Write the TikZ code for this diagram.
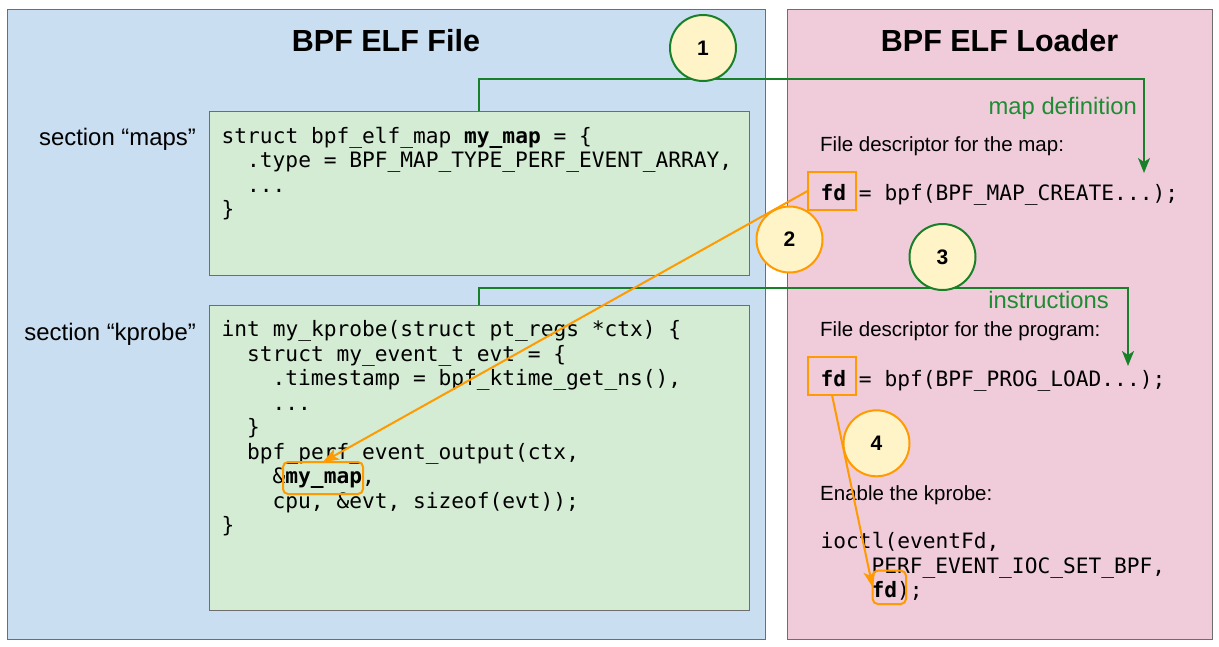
\documentclass[tikz,border=0pt]{standalone}
\usepackage{fontspec}
\setmainfont{Liberation Sans}
\newfontfamily\codefont{DejaVu Sans Mono}
\usetikzlibrary{arrows.meta}
\definecolor{panelblue}{RGB}{202,222,241}
\definecolor{panelpink}{RGB}{240,204,219}
\definecolor{codegreen}{RGB}{211,236,211}
\definecolor{bordergray}{RGB}{110,110,110}
\definecolor{badgefill}{RGB}{255,244,200}
\definecolor{flowgreen}{RGB}{24,128,40}
\definecolor{flowgreentext}{RGB}{30,140,50}
\definecolor{floworange}{RGB}{255,154,0}
\begin{document}
\begin{tikzpicture}[x=1pt,y=-1pt,
  panel/.style={draw=bordergray, line width=1pt, anchor=north west, inner sep=0, outer sep=0},
  codebox/.style={draw=bordergray, fill=codegreen, line width=1pt, anchor=north west, inner sep=0, outer sep=0},
  title/.style={font=\fontsize{30.5}{36}\selectfont\bfseries, anchor=base, inner sep=0},
  seclabel/.style={font=\fontsize{23.9}{28}\selectfont, anchor=base east, inner sep=0},
  desc/.style={font=\fontsize{20.5}{24}\selectfont, anchor=base west, inner sep=0},
  flowlabel/.style={font=\fontsize{23.8}{28}\selectfont, text=flowgreentext, anchor=base east, inner sep=0},
  code/.style={font=\codefont\fontsize{21.2}{24.6}\selectfont, anchor=base west, inner sep=0},
  badge/.style={circle, draw, line width=2pt, fill=badgefill, minimum size=66pt, inner sep=0, font=\fontsize{21}{24}\selectfont\bfseries},
  fdsquare/.style={draw=floworange, line width=2pt, anchor=north west, inner sep=0, outer sep=0},
  fdround/.style={draw=floworange, line width=2pt, rounded corners=5pt, anchor=north west, inner sep=0, outer sep=0},
  greenflow/.style={draw=flowgreen, line width=2pt, -{Stealth[length=15pt,width=12pt,inset=4pt]}},
  orangeflow/.style={draw=floworange, line width=2pt, -{Stealth[length=16pt,width=12pt,inset=4pt]}},
]
\useasboundingbox (0,0) rectangle (1219,646);
\fill[white] (0,0) rectangle (1219,646);

% panels
\node[panel, fill=panelblue, minimum width=758pt, minimum height=630pt] (elfpanel) at (7,9) {};
\node[panel, fill=panelpink, minimum width=425pt, minimum height=630pt] (loaderpanel) at (787,9) {};
\node[title] (elftitle) at (386,51) {BPF ELF File};
\node[title] (loadertitle) at (999.5,51) {BPF ELF Loader};

% code boxes
\node[codebox, minimum width=540pt, minimum height=164pt] (mapbox) at (209,111) {};
\node[codebox, minimum width=540pt, minimum height=305pt] (probebox) at (209,305) {};
\node[seclabel] (maplabel) at (196,145.7) {section “maps”};
\node[seclabel] (probelabel) at (196,340) {section “kprobe”};

% maps code
\node[code] (m1) at (221.5,143) {struct bpf\_elf\_map \textbf{my\_map} = \{};
\node[code] (m2) at (247,167.6) {.type = BPF\_MAP\_TYPE\_PERF\_EVENT\_ARRAY,};
\node[code] (m3) at (247,192.2) {...};
\node[code] (m4) at (221.5,216.8) {\}};

% kprobe code
\node[code] (k1) at (221.5,336.7) {int my\_kprobe(struct pt\_regs *ctx) \{};
\node[code] (k2) at (247,361.2) {struct my\_event\_t evt = \{};
\node[code] (k3) at (272.5,385.7) {.timestamp = bpf\_ktime\_get\_ns(),};
\node[code] (k4) at (272.5,410.2) {...};
\node[code] (k5) at (247,434.7) {\}};
\node[code] (k6) at (247,459.2) {bpf\_perf\_event\_output(ctx,};
\node[code] (k7) at (272.5,483.7) {\&\textbf{my\_map},};
\node[code] (k8) at (272.5,508.2) {cpu, \&evt, sizeof(evt));};
\node[code] (k9) at (221.5,532.7) {\}};
\node[fdround, minimum width=80pt, minimum height=32pt] (mymapbox) at (283,462) {};

% loader text
\node[flowlabel] (mapdeflabel) at (1137,114.3) {map definition};
\node[desc] (d1) at (820,151.7) {File descriptor for the map:};
\node[code] (c1) at (820.5,200.7) {\textbf{fd} = bpf(BPF\_MAP\_CREATE...);};
\node[fdsquare, minimum width=47.5pt, minimum height=37.5pt] (mapfd) at (808,172) {};

\node[flowlabel] (instrlabel) at (1109,308.3) {instructions};
\node[desc] (d2) at (820,336.7) {File descriptor for the program:};
\node[code] (c2) at (820.5,386.7) {\textbf{fd} = bpf(BPF\_PROG\_LOAD...);};
\node[fdsquare, minimum width=48pt, minimum height=38pt] (progfd) at (808,357) {};

\node[desc] (d3) at (820,500) {Enable the kprobe:};
\node[code] (i1) at (820.5,548.3) {ioctl(eventFd,};
\node[code] (i2) at (871.4,573.3) {PERF\_EVENT\_IOC\_SET\_BPF,};
\node[code] (i3) at (871.4,597.7) {\textbf{fd});};
\node[fdround, minimum width=33.3pt, minimum height=33.3pt] (ioctlfd) at (872.7,570.7) {};

% connectors
\coordinate (mapturn) at (1144,79);
\coordinate (maptip) at (1144,173);
\coordinate (progturn) at (1128,288);
\coordinate (progtip) at (1128,366);
\draw[greenflow] (mapbox.north) |- (mapturn) -- (maptip);
\draw[greenflow] (probebox.north) |- (progturn) -- (progtip);
\draw[orangeflow] (mapfd.west) -- (mymapbox.north);
\draw[orangeflow] (progfd.south) -- (ioctlfd.west);

% badges
\node[badge, draw=flowgreen] (b1) at (703,48) {1};
\node[badge, draw=floworange] (b2) at (789.5,239.5) {2};
\node[badge, draw=flowgreen] (b3) at (942.5,257) {3};
\node[badge, draw=floworange] (b4) at (876.5,443.3) {4};
\end{tikzpicture}
\end{document}
